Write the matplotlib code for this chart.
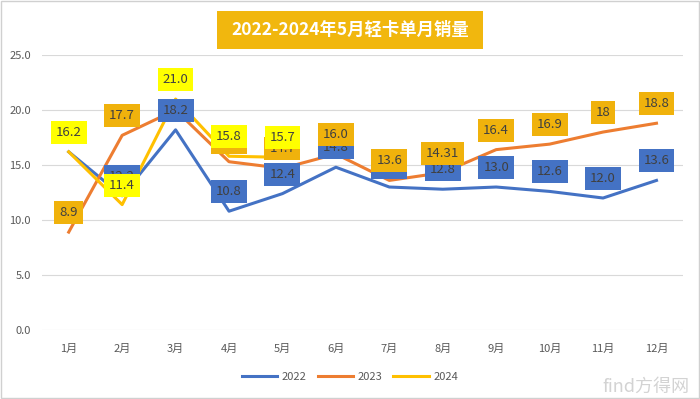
import matplotlib
matplotlib.use("Agg")
import matplotlib.pyplot as plt
from matplotlib.patches import Rectangle

plt.rcParams['font.family'] = ['Noto Sans CJK SC', 'DejaVu Sans']

# 数据 (万辆)
months = ['1月', '2月', '3月', '4月', '5月', '6月', '7月', '8月', '9月', '10月', '11月', '12月']
sales_2022 = [16.2, 12.2, 18.2, 10.8, 12.4, 14.8, 13.0, 12.8, 13.0, 12.6, 12.0, 13.6]
sales_2023 = [8.9, 17.7, 20.0, 15.3, 14.7, 16.0, 13.6, 14.31, 16.4, 16.9, 18.0, 18.8]
sales_2024 = [16.2, 11.4, 21.0, 15.8, 15.7]

# 数据标签 (None = 图中没有显示)
labels_2022 = ['16.2', '12.2', '18.2', '10.8', '12.4', '14.8', '13.0', '12.8', '13.0', '12.6', '12.0', '13.6']
labels_2023 = ['8.9', '17.7', None, '15.3', '14.7', '16.0', '13.6', '14.31', '16.4', '16.9', '18', '18.8']
labels_2024 = ['16.2', '11.4', '21.0', '15.8', '15.7']

c22 = '#4472C4'
c23 = '#ED7D31'
c24 = '#FFC000'
box23 = '#F0B20C'
box24 = '#FFFF00'
gris = '#595959'

fig = plt.figure(figsize=(7, 3.99), dpi=100)
ax = fig.add_axes([0.06, 0.173, 0.916, 0.689])

x = list(range(1, 13))
ax.plot(x, sales_2022, color=c22, lw=2.2, label='2022', zorder=3)
ax.plot(x, sales_2023, color=c23, lw=2.2, label='2023', zorder=3)
ax.plot(x[:len(sales_2024)], sales_2024, color=c24, lw=2.2, label='2024', zorder=3)


def poner_etiquetas(vals, etiquetas, color_caja, z):
    for i, (v, t) in enumerate(zip(vals, etiquetas)):
        if t is None:
            continue
        ax.annotate(t, (i + 1, v), xytext=(0, 14), textcoords='offset points',
                    ha='center', va='center', fontsize=9.5, color='#404040', zorder=z,
                    bbox=dict(boxstyle='square,pad=0.38', fc=color_caja, ec='none'))


poner_etiquetas(sales_2022, labels_2022, c22, 5)
poner_etiquetas(sales_2023, labels_2023, box23, 6)
poner_etiquetas(sales_2024, labels_2024, box24, 7)

ax.set_xlim(0.5, 12.5)
ax.set_ylim(0, 25)
ax.set_yticks([0, 5, 10, 15, 20, 25])
ax.set_yticklabels(['%.1f' % v for v in [0, 5, 10, 15, 20, 25]])
ax.set_xticks(x)
ax.set_xticklabels(months)
ax.tick_params(length=0, labelsize=8, colors=gris, pad=8)
ax.tick_params(axis='x', pad=10)
ax.grid(axis='y', color='#D9D9D9', lw=0.8)
ax.set_axisbelow(True)
for s in ax.spines.values():
    s.set_visible(False)

ax.legend(loc='center', bbox_to_anchor=(0.5, 0.055), bbox_transform=fig.transFigure,
          ncol=3, frameon=False, fontsize=8, labelcolor=gris, handlelength=3.2,
          columnspacing=1.0, handletextpad=0.4)

# titulo con caja dorada
fig.patches.append(Rectangle((217 / 700, 1 - 49 / 399), 266 / 700, 38 / 399,
                             transform=fig.transFigure, fc='#F1B70E', ec='none'))
fig.text(0.5, 1 - 30 / 399, '2022-2024年5月轻卡单月销量', ha='center', va='center',
         fontsize=12.5, fontweight='bold', color='white')

# borde del grafico
fig.patches.append(Rectangle((0.002, 0.003), 0.996, 0.994, transform=fig.transFigure,
                             fc='none', ec='#D0D0D0', lw=1))

# marca de agua
fig.text(0.985, 0.03, 'find方得网', ha='right', va='center', fontsize=13,
         color='#C8C8C8', alpha=0.8)

fig.savefig('out.png', dpi=100)
